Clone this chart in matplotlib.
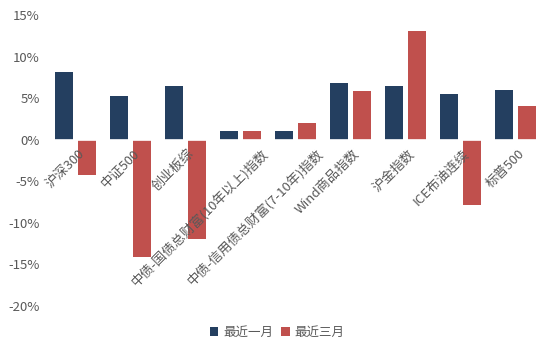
import numpy as np
import matplotlib
matplotlib.use("Agg")
import matplotlib.pyplot as plt
from matplotlib.ticker import FuncFormatter

plt.rcParams['font.family'] = ['Noto Sans CJK SC', 'DejaVu Sans']

# 数据
categories = ["沪深300", "中证500", "创业板综", "中债-国债总财富(10年以上)指数",
              "中债-信用债总财富(7-10年)指数", "Wind商品指数", "沪金指数",
              "ICE布油连续", "标普500"]
month_1 = [8.1, 5.3, 6.5, 1.1, 1.0, 6.8, 6.5, 5.5, 6.0]
month_3 = [-4.2, -14.1, -11.9, 1.0, 2.0, 5.8, 13.1, -7.9, 4.0]

NAVY = "#243F60"
RED = "#C0504D"
GRAY = "#595959"

fig = plt.figure(figsize=(5.54, 3.53), dpi=100)
ax = fig.add_axes([48 / 554, 47 / 353, 495 / 554, 291 / 353])

x = np.arange(len(categories))
w = 0.327
b1 = ax.bar(x - 0.209, month_1, w, color=NAVY, label="最近一月")
b2 = ax.bar(x + 0.209, month_3, w, color=RED, label="最近三月")
ax.axhline(0, color="white", lw=1.2)

ax.set_xlim(-0.5, len(categories) - 0.5)
ax.set_ylim(-20, 15)
ax.set_yticks(np.arange(-20, 16, 5))
ax.yaxis.set_major_formatter(FuncFormatter(lambda v, p: f"{v:.0f}%"))
ax.tick_params(axis="y", length=0, labelsize=9.5, labelcolor=GRAY, pad=6)
ax.set_xticks([])
for s in ax.spines.values():
    s.set_visible(False)

# 斜排类目标签（长标签向右偏移）
for i, c in enumerate(categories):
    dx = 0.38 if len(c) > 12 else 0.04
    ax.text(i + dx, -0.9, c, rotation=45, ha="right", va="top",
            rotation_mode="anchor", fontsize=9.5, color=GRAY, zorder=5)

fig.legend(handles=[b1, b2], loc="center", bbox_to_anchor=(0.5, 1 - 332 / 353),
           ncol=2, frameon=False, fontsize=9, handlelength=0.7, handleheight=0.7,
           handletextpad=0.4, columnspacing=0.6, labelcolor=GRAY)

fig.savefig("out.png", dpi=100)
